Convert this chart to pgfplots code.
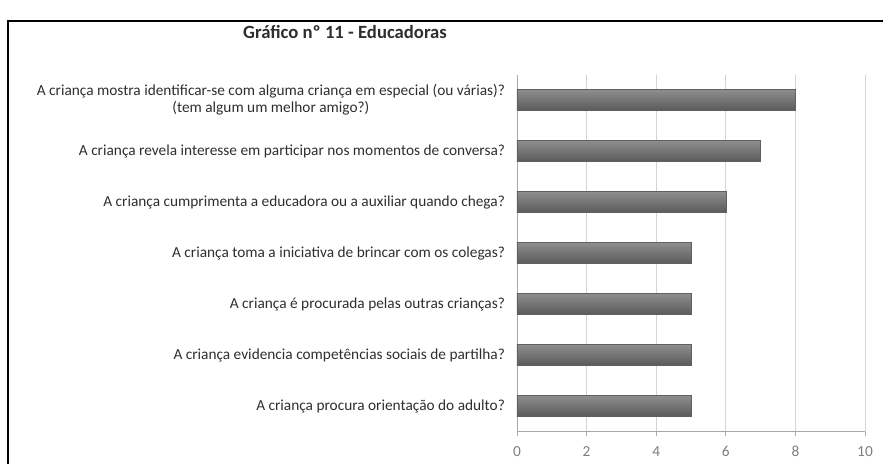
\documentclass[border=0pt]{standalone}
\usepackage{pgfplots}
\pgfplotsset{compat=1.18}
\usepackage{fontspec}
\setmainfont{Carlito}
\definecolor{barTop}{HTML}{8E8E8E}
\definecolor{barMid}{HTML}{707070}
\definecolor{barBot}{HTML}{5A5A5A}
\definecolor{barEdge}{HTML}{606060}
\definecolor{gridGray}{HTML}{D4D4D4}
\definecolor{axisGray}{HTML}{A8A8A8}
\definecolor{labelGray}{HTML}{2E2E2E}

\begin{document}
\begin{tikzpicture}[x=0.75pt,y=0.75pt]
\useasboundingbox (0,0) rectangle (883,464);
% outer frame of the chart area
\draw[line width=1.1pt,black] (8,0) -- (8,443) -- (883,443);
% title
\node[font=\fontsize{14}{16}\selectfont\bfseries,text=labelGray] at (345,432) {Gráfico nº 11 - Educadoras};

\begin{axis}[
  at={(387.75pt,24.375pt)}, anchor=south west,
  scale only axis,
  width=261pt, height=267.75pt,
  xbar, bar width=15.75pt, bar shift=0pt,
  xmin=0, xmax=10,
  ymin=0.5, ymax=7.5,
  y dir=reverse,
  xtick={0,2,...,10},
  ytick={1,...,7},
  yticklabels={
    {A criança mostra identificar-se com alguma criança em especial (ou várias)?\\(tem algum um melhor amigo?)},
    {A criança revela interesse em participar nos momentos de conversa?},
    {A criança cumprimenta a educadora ou a auxiliar quando chega?},
    {A criança toma a iniciativa de brincar com os colegas?},
    {A criança é procurada pelas outras crianças?},
    {A criança evidencia competências sociais de partilha?},
    {A criança procura orientação do adulto?}},
  yticklabel style={align=center, font=\fontsize{11.5}{12.5}\selectfont, text=labelGray, xshift=-2pt},
  xticklabel style={font=\fontsize{11.5}{12}\selectfont, text=axisGray!75!black, yshift=-4pt},
  /pgf/number format/assume math mode=true,
  ytick style={draw=none},
  minor ytick={0.5,1.5,...,7.5},
  minor tick length=3.5pt,
  major tick length=3.5pt,
  tick align=outside,
  tick pos=left,
  xtick style={axisGray, line width=0.6pt},
  minor tick style={axisGray, line width=0.6pt},
  axis lines*=left,
  axis line style={axisGray, line width=0.6pt},
  xmajorgrids,
  grid style={gridGray, line width=0.6pt},
  clip=false,
  greybar/.style={draw=barEdge, line width=0.3pt,
    top color=barTop, middle color=barMid, bottom color=barBot},
]
% one plot per bar so that each bar gets its own shading
\addplot[greybar] coordinates {(8,1)};
\addplot[greybar] coordinates {(7,2)};
\addplot[greybar] coordinates {(6,3)};
\addplot[greybar] coordinates {(5,4)};
\addplot[greybar] coordinates {(5,5)};
\addplot[greybar] coordinates {(5,6)};
\addplot[greybar] coordinates {(5,7)};
\end{axis}
\end{tikzpicture}
\end{document}
